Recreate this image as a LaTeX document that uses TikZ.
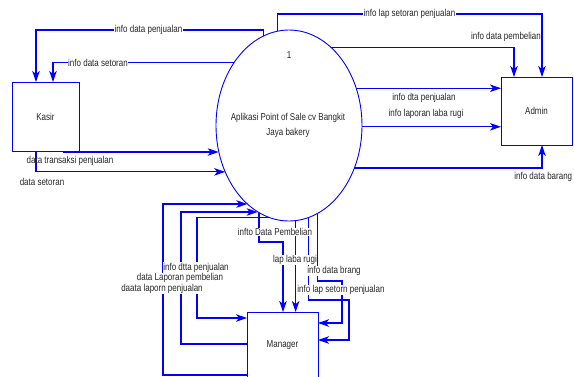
\documentclass[tikz,border=0pt]{standalone}
\usepackage{fontspec}
\setmainfont{Liberation Sans}[FakeStretch=0.8]
\usetikzlibrary{arrows.meta,shapes.geometric}
\begin{document}
\begin{tikzpicture}[x=1pt,y=-1pt,
  txt/.style={font=\fontsize{10}{15}\selectfont, text=black!85},
  flow/.style={draw=blue, line width=1.1pt, -{Stealth[length=11pt,width=7.5pt,inset=3pt]}},
  entity/.style={draw=blue, line width=1pt, inner sep=0pt, outer sep=0pt, txt},
  procnode/.style={ellipse, draw=blue, line width=0.9pt, inner sep=0pt, outer sep=0pt, minimum width=146pt, minimum height=191pt},
  lbl/.style={fill=white, inner sep=0.6pt, txt},
  plainlbl/.style={inner sep=0.6pt, txt}
]
\useasboundingbox (0,0) rectangle (574,376);
\fill[white] (0,0) rectangle (574,376);

% process and entities
\node[procnode] (P) at (289,125.5) {};
\node[txt] (pnum) at (289,55) {1};
\node[txt, align=center] (ptitle) at (288,125.5) {Aplikasi Point of Sale cv Bangkit\\Jaya bakery};
\node[entity, minimum width=67pt, minimum height=69pt] (Kasir) at (45.5,116.5) {Kasir};
\node[entity, minimum width=71pt, minimum height=68pt] (Admin) at (536.5,111) {Admin};
\node[entity, minimum width=71pt, minimum height=66pt] (Manager) at (282.5,345) {Manager};

% helper coordinates
\coordinate (k1) at (63,152);
\coordinate (b1) at (163,204);
\coordinate (b2) at (181,212);

% Kasir flows
\draw[flow] (P.106.9) |- (36,30) -- ([xshift=24pt]Kasir.north west);
\draw[flow] (P.131.5) -| ([xshift=41pt]Kasir.north west);
\draw[flow] (k1) -- (k1 -| P.200.7);
\draw[flow] ([xshift=24pt]Kasir.south west) |- (P.216.9);

% Admin flows
\draw[flow] (P.97.3) |- (542,14) -- ([xshift=41pt]Admin.north west);
\draw[flow] (P.62.1) -| ([xshift=13pt]Admin.north west);
\draw[flow] (P.29.2) -- (P.29.2 -| Admin.west);
\draw[flow] (P.359.6) -- (P.359.6 -| Admin.west);
\draw[flow] (P.327) -| ([xshift=41pt]Admin.south west);

% Manager flows
\draw[flow] (P.251) |- (283,242) -- ([xshift=36pt]Manager.north west);
\draw[flow] (P.274.8) -- (P.274.8 |- Manager.north);
\draw[flow] (P.282.9) |- (349,300) |- ([yshift=-28pt]Manager.north east);
\draw[flow] (P.288.3) |- (342,281) |- ([yshift=-11pt]Manager.north east);
\draw[flow] (P.258.9) -| (197,318) -- ([yshift=-6pt]Manager.north west);
\draw[flow] ([yshift=-32pt]Manager.north west) -| (b2) -- (b2 -| P.250.3);
\draw[flow] ([yshift=-63pt]Manager.north west) -| (b1) -- (b1 -| P.242.1);

% labels
\node[lbl] (l1) at (148.5,30) {info data penjualan};
\node[lbl] (l2) at (98,62.5) {info data setoran};
\node[lbl] (l3) at (409.5,14) {info lap setoran penjualan};
\node[plainlbl] (l4) at (506,37) {info data pembelian};
\node[plainlbl] (l5) at (424,98) {info dta penjualan};
\node[plainlbl] (l6) at (426,114) {info laporan laba rugi};
\node[plainlbl, anchor=east] (l7) at (573,177) {info data barang};
\node[plainlbl] (l8) at (70,161) {data transaksi penjualan};
\node[plainlbl] (l9) at (42,182) {data setoran};
\node[lbl] (l10) at (196,267.5) {info dtta penjualan};
\node[lbl] (l11) at (180,278) {data Laporan pembelian};
\node[lbl] (l12) at (162,288.5) {daata laporn penjualan};
\node[lbl] (l13) at (275,232) {infto Data Pembelian};
\node[lbl] (l14) at (295,260) {lap laba rugi};
\node[lbl] (l15) at (334,271) {info data brang};
\node[lbl] (l16) at (341,290) {info lap setorn penjualan};
\end{tikzpicture}
\end{document}
